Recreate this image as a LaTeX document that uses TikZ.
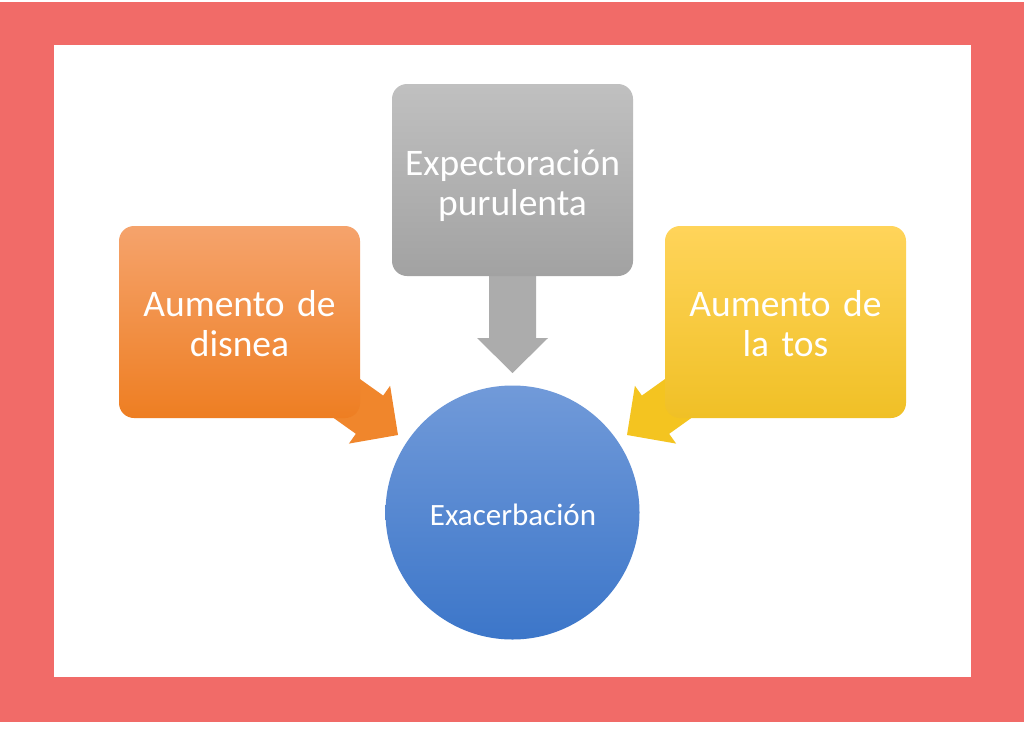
\documentclass[tikz,border=0pt]{standalone}
\usepackage{fontspec}
\setmainfont{Carlito}[WordSpace=0.75]
\usetikzlibrary{calc}
\pgfdeclarelayer{bg}
\pgfsetlayers{bg,main}
\definecolor{bgred}{RGB}{241,107,104}
\definecolor{orT}{RGB}{245,163,108}
\definecolor{orB}{RGB}{238,126,34}
\definecolor{grT}{RGB}{192,192,192}
\definecolor{grB}{RGB}{162,162,162}
\definecolor{yeT}{RGB}{255,212,90}
\definecolor{yeB}{RGB}{240,192,38}
\definecolor{blT}{RGB}{113,154,217}
\definecolor{blB}{RGB}{60,118,201}
\definecolor{orA}{RGB}{240,134,44}
\definecolor{grA}{RGB}{172,172,172}
\definecolor{yeA}{RGB}{244,196,32}
\newcommand\blockarrow[3]{%
 \fill[#3] (#2) -- ($(#2)!35pt!(#1)!35.5pt!90:(#2)$) -- ($(#2)!35pt!(#1)!23.5pt!90:(#2)$) -- ($(#1)!23.5pt!90:(#2)$) -- ($(#1)!23.5pt!-90:(#2)$) -- ($(#2)!35pt!(#1)!23.5pt!-90:(#2)$) -- ($(#2)!35pt!(#1)!35.5pt!-90:(#2)$) -- cycle;}
\begin{document}
\begin{tikzpicture}[x=1pt,y=-1pt,
  box/.style={rounded corners=15pt, minimum width=241pt, minimum height=192pt,
    text width=238pt, align=center, text=white, inner sep=0pt,
    font=\fontsize{37.5}{40}\selectfont},
  circ/.style={circle, minimum size=254pt, inner sep=0pt, text=white,
    font=\fontsize{31}{36}\selectfont, top color=blT, bottom color=blB}]
\useasboundingbox (0,0) rectangle (1024,728);
\begin{pgfonlayer}{bg}
\fill[white] (0,0) rectangle (1024,728);
\fill[bgred] (0,2) rectangle (1024,722);
\fill[white] (54,45) rectangle (971,677);
\end{pgfonlayer}
\node[box, top color=orT, bottom color=orB] (dis) at (239.5,322) {};
\node[box, top color=grT, bottom color=grB] (exp) at (512.5,180) {};
\node[box, top color=yeT, bottom color=yeB] (tos) at (785.5,322) {};
\node[box, fill=none] (disT) at (239.5,324) {Aumento de\\disnea};
\node[box, fill=none] (expT) at (512.5,186) {Expectoración\\purulenta};
\node[box, fill=none] (tosT) at (785.5,324) {Aumento de\\la tos};
\node[circ] (exa) at (512.5,512.5) {};
\node[text=white, font=\fontsize{31}{36}\selectfont, inner sep=0pt] (exaT) at (513,515) {Exacerbación};
\coordinate (tDis) at (398,435);
\coordinate (tExp) at (512.5,373);
\coordinate (tTos) at (627,435);
\begin{pgfonlayer}{bg}
\blockarrow{dis.center}{tDis}{orA}
\blockarrow{exp.center}{tExp}{grA}
\blockarrow{tos.center}{tTos}{yeA}
\end{pgfonlayer}
\end{tikzpicture}
\end{document}
